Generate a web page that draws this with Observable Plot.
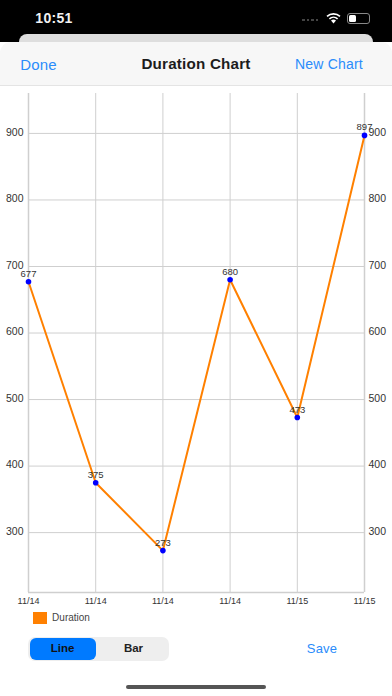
<!DOCTYPE html>
<html><head><meta charset="utf-8">
<script src="https://cdn.jsdelivr.net/npm/d3@7"></script>
<script src="https://cdn.jsdelivr.net/npm/@observablehq/plot@0.6"></script>
<style>
html,body{margin:0;padding:0;background:#fff}
#app{position:relative;width:392px;height:696px;overflow:hidden;font-family:"Liberation Sans",Arial,sans-serif;background:#fff}
#app>div{position:absolute}
#chart{left:0;top:0}
.t{white-space:nowrap;line-height:1;transform:translate(-50%,-50%)}
.blue{color:#2a8cfb;font-size:15px;letter-spacing:.2px}
</style></head><body>
<div id="app">
<div style="left:0;top:0;width:392px;height:42px;background:#000"></div>
<div class="t" style="left:54px;top:18px;color:#f2f2f2;font-size:14px;font-weight:bold;letter-spacing:.3px">10:51</div>
<div style="left:302px;top:19px;width:17px;height:2px;background:repeating-linear-gradient(90deg,#444 0 2.5px,transparent 2.5px 4.5px)"></div>
<svg style="position:absolute;left:326px;top:13px" width="15" height="11" viewBox="0 0 15 11"><path d="M7.5 10.5 L5 7.5 A4 4 0 0 1 10 7.5 Z" fill="#fff"/><path d="M3.4 5.8 A6.2 6.2 0 0 1 11.6 5.8 M1 3.4 A9.6 9.6 0 0 1 14 3.4" fill="none" stroke="#fff" stroke-width="1.6"/></svg>
<div style="left:347px;top:13px;width:21px;height:9px;border:1px solid #888;border-radius:3px;box-sizing:content-box"><div style="position:absolute;left:1px;top:1px;width:7px;height:7px;background:#fff;border-radius:1.5px"></div></div>
<div style="left:19px;top:34px;width:354px;height:20px;background:#dedede;border-radius:8px 8px 0 0"></div>
<div style="left:0;top:42px;width:392px;height:43px;background:#f7f7f7;border-radius:11px 11px 0 0;border-bottom:1px solid #e4e4e4"></div>
<div id="chart"></div>
<div class="t blue" style="left:38.5px;top:64px">Done</div>
<div class="t" style="left:196px;top:64px;font-size:15.2px;font-weight:bold;color:#1c1c1c;letter-spacing:.2px">Duration Chart</div>
<div class="t blue" style="left:329px;top:64px;font-size:14px">New Chart</div>
<div id="legend-swatch" style="left:33px;top:612px;width:14px;height:12px;background:#ff8000"></div>
<div class="t" style="left:71px;top:618px;font-size:10px;color:#444" id="legend-label"></div>
<div style="left:28px;top:637px;width:141px;height:24px;background:#eeeeee;border-radius:7px"></div>
<div style="left:30px;top:638px;width:66px;height:22px;background:#007aff;border-radius:6px"></div>
<div class="t" style="left:62.5px;top:649px;font-size:11.5px;font-weight:bold;color:#111">Line</div>
<div class="t" style="left:133.5px;top:649px;font-size:11.5px;font-weight:bold;color:#222">Bar</div>
<div class="t blue" style="left:322px;top:647.5px;font-size:13px">Save</div>
<div style="left:126px;top:685px;width:140px;height:4px;background:#555;border-radius:2px"></div>
</div>
<script>
const seriesName = "Duration";
const dateLabels = ["11/14","11/14","11/14","11/14","11/15","11/15"];
const durations = [677,375,273,680,473,897];
const yTicks = [300,400,500,600,700,800,900];
const positions = dateLabels.map((_, i) => i);

document.getElementById("legend-label").textContent = seriesName;

const font = '"Liberation Sans",Arial,sans-serif';
const grid = "#cfcfcf";
const plot = Plot.plot({
  width: 392, height: 696,
  marginTop: 93, marginBottom: 104, marginLeft: 28, marginRight: 28,
  style: {background: "transparent", fontFamily: font},
  x: {type: "linear", domain: [0, dateLabels.length - 1]},
  y: {domain: [210, 960]},
  marks: [
    Plot.gridX(positions, {stroke: grid, strokeOpacity: 1, strokeWidth: 1}),
    Plot.gridY(yTicks, {stroke: grid, strokeOpacity: 1, strokeWidth: 1}),
    Plot.ruleX([0, dateLabels.length - 1], {stroke: grid, strokeWidth: 1.5}),
    Plot.ruleY([210], {stroke: grid, strokeWidth: 1.5}),
    Plot.axisX(positions, {label: null, tickSize: 0, tickPadding: 5, fontSize: 9, fill: "#333",
      tickFormat: i => dateLabels[i]}),
    Plot.axisY(yTicks, {anchor: "left", label: null, tickSize: 0, tickPadding: 5, fontSize: 10.5, fill: "#333", dy: -1}),
    Plot.axisY(yTicks, {anchor: "right", label: null, tickSize: 0, tickPadding: 4, fontSize: 10.5, fill: "#333", dy: -1}),
    Plot.line(positions, {x: i => i, y: i => durations[i], stroke: "#ff8000", strokeWidth: 2, curve: "linear"}),
    Plot.dot(positions, {x: i => i, y: i => durations[i], r: 2.8, fill: "#0000ff"}),
    Plot.text(positions, {x: i => i, y: i => durations[i], text: i => String(durations[i]), dy: -8, fontSize: 9.5, fill: "#333"})
  ]
});
document.getElementById("chart").appendChild(plot);
</script>
</body></html>
